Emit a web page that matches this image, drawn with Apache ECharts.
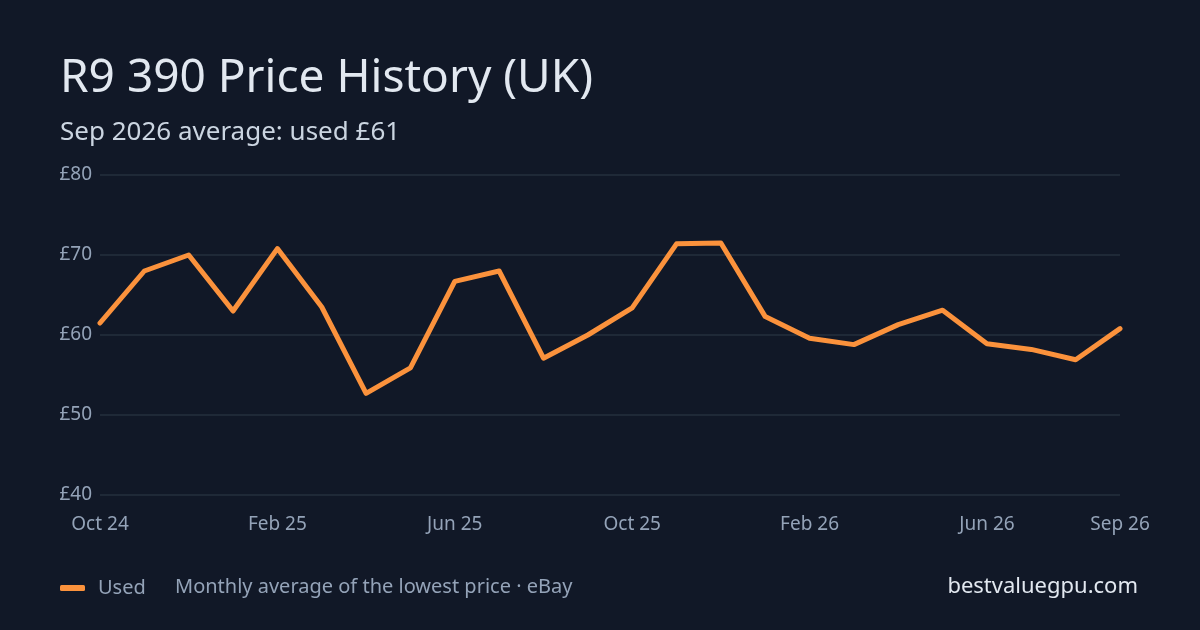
<!DOCTYPE html>
<html>
<head>
<meta charset="utf-8">
<script src="https://cdn.jsdelivr.net/npm/echarts@6/dist/echarts.min.js"></script>
<style>
  html, body { margin: 0; padding: 0; background: #111827; }
  #chart { width: 1200px; height: 630px; }
</style>
</head>
<body>
<div id="chart"></div>
<script>
var months = [
  "Oct 24", "Nov 24", "Dec 24", "Jan 25", "Feb 25", "Mar 25", "Apr 25", "May 25",
  "Jun 25", "Jul 25", "Aug 25", "Sep 25", "Oct 25", "Nov 25", "Dec 25", "Jan 26",
  "Feb 26", "Mar 26", "Apr 26", "May 26", "Jun 26", "Jul 26", "Aug 26", "Sep 26"
];
var usedPrices = [
  61.5, 68.0, 70.0, 63.0, 70.8, 63.5, 52.7, 55.9,
  66.7, 68.0, 57.1, 60.0, 63.4, 71.4, 71.5, 62.3,
  59.6, 58.8, 61.3, 63.1, 58.9, 58.2, 56.9, 60.8
];

var font = "'Noto Sans', sans-serif";
var myChart = echarts.init(document.getElementById("chart"));

myChart.setOption({
  backgroundColor: "#111827",
  animation: false,
  title: [
    {
      text: "R9 390 Price History (UK)",
      left: 55,
      top: 51,
      textStyle: { color: "#e2e8f0", fontSize: 46, fontWeight: "normal", fontFamily: font }
    },
    {
      text: "Sep 2026 average: used £61",
      left: 55,
      top: 115,
      textStyle: { color: "#cbd5e1", fontSize: 26, fontWeight: "normal", fontFamily: font }
    }
  ],
  grid: { left: 100, right: 80, top: 175, bottom: 135 },
  legend: {
    left: 60,
    top: 578,
    padding: 0,
    itemWidth: 25,
    itemHeight: 6,
    icon: "roundRect",
    textStyle: { color: "#94a3b8", fontSize: 20, fontFamily: font, padding: [0, 0, 0, 8] },
    data: ["Used"]
  },
  xAxis: {
    type: "category",
    data: months,
    boundaryGap: false,
    axisLine: { show: false },
    axisTick: { show: false },
    axisLabel: {
      color: "#94a3b8",
      fontSize: 19,
      fontFamily: font,
      margin: 20,
      interval: function(i) {
        return i % 4 === 0 || i === months.length - 1;
      }
    }
  },
  yAxis: {
    type: "value",
    min: 40,
    max: 80,
    interval: 10,
    axisLabel: {
      color: "#94a3b8",
      fontSize: 19,
      fontFamily: font,
      margin: 8,
      formatter: "£{value}"
    },
    splitLine: { lineStyle: { color: "#1f2937", width: 2 } }
  },
  series: [
    {
      name: "Used",
      type: "line",
      data: usedPrices,
      showSymbol: false,
      itemStyle: { color: "#fb923c" },
      lineStyle: { color: "#fb923c", width: 5, cap: "round", join: "round" }
    }
  ],
  graphic: [
    {
      type: "text",
      left: 175,
      top: 577,
      style: {
        text: "Monthly average of the lowest price · eBay",
        fill: "#94a3b8",
        fontSize: 20,
        fontFamily: font
      }
    },
    {
      type: "text",
      right: 62,
      top: 576,
      style: {
        text: "bestvaluegpu.com",
        fill: "#e2e8f0",
        fontSize: 22,
        fontFamily: font
      }
    }
  ]
});
</script>
</body>
</html>
